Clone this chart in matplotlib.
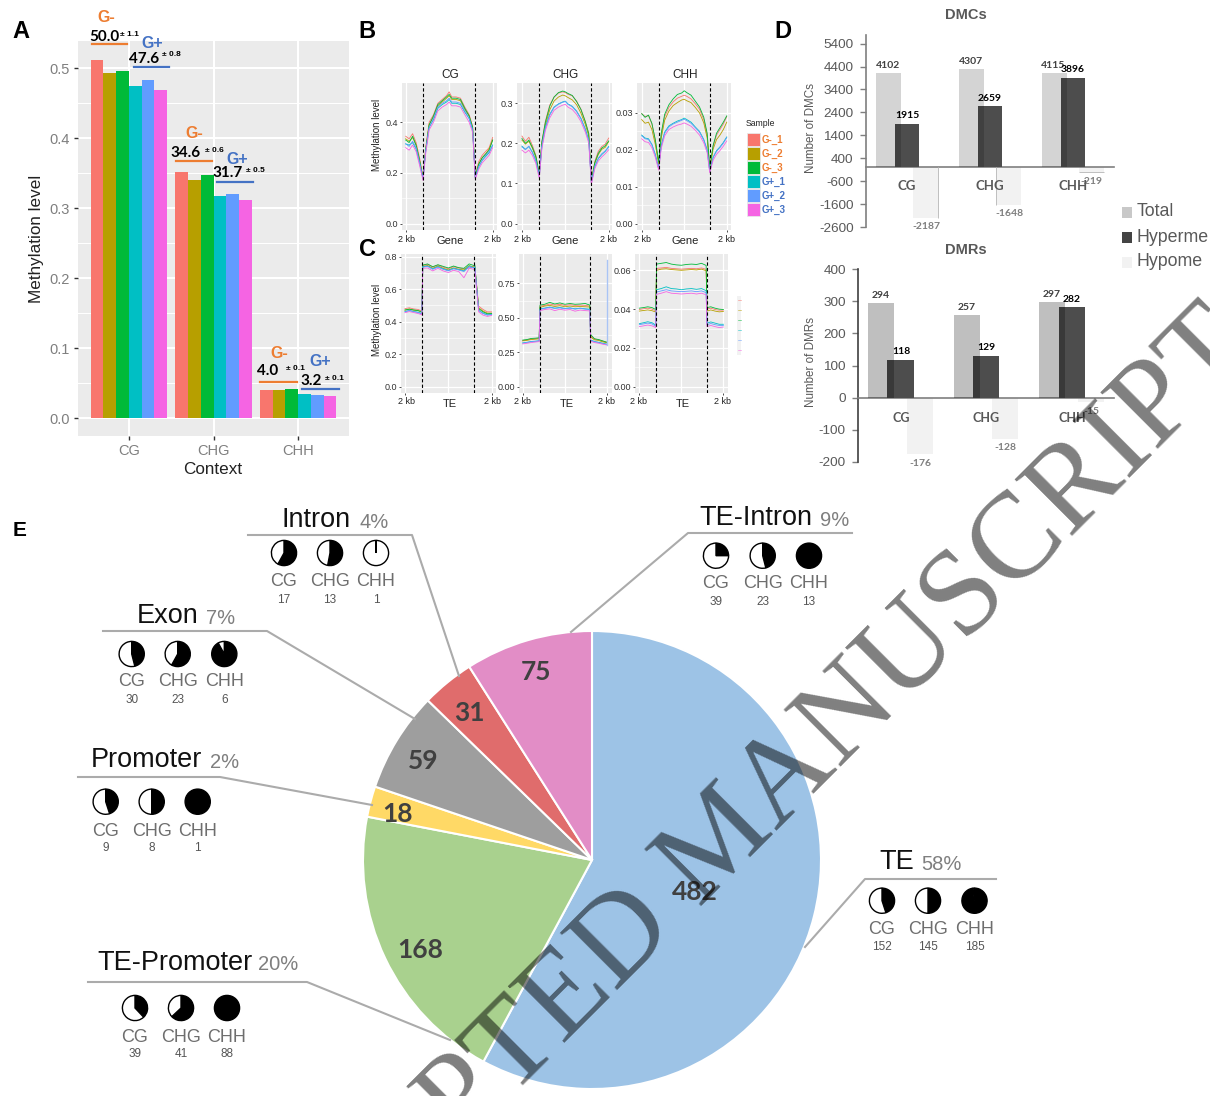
import matplotlib
matplotlib.use("Agg")
import matplotlib.pyplot as plt
from matplotlib.patches import Rectangle

plt.rcParams['font.family'] = ['Liberation Sans', 'DejaVu Sans']
W, H = 1210, 1096

# ---------- data ----------
samples = ['G-_1', 'G-_2', 'G-_3', 'G+_1', 'G+_2', 'G+_3']
colors6 = ['#F8766D', '#B79F00', '#00BA38', '#00BFC4', '#619CFF', '#F564E3']
contexts = ['CG', 'CHG', 'CHH']
a_cg = [0.512, 0.493, 0.496, 0.475, 0.483, 0.469]
a_chg = [0.351, 0.340, 0.347, 0.318, 0.320, 0.312]
a_chh = [0.040, 0.040, 0.042, 0.034, 0.033, 0.032]

gx = [0, 4, 8, 12, 16, 20, 23, 27, 32, 37, 42, 47, 50, 53, 58, 63, 68, 73, 77, 80, 84, 88, 92, 96, 100]
tx = [0, 5, 10, 15, 19.5, 20.5, 26, 32, 38, 44, 50, 56, 62, 68, 74, 79.5, 80.5, 85, 90, 95, 100]

gene_cg = [
 [.345,.335,.355,.32,.26,.185,.30,.40,.43,.475,.49,.505,.52,.50,.50,.495,.46,.43,.385,.19,.245,.27,.285,.30,.34],
 [.335,.325,.34,.31,.25,.18,.29,.39,.42,.465,.48,.495,.505,.49,.49,.485,.45,.425,.375,.185,.235,.26,.275,.295,.33],
 [.33,.32,.345,.31,.25,.18,.29,.39,.425,.47,.485,.50,.51,.495,.495,.49,.455,.425,.38,.185,.235,.26,.275,.29,.33],
 [.315,.31,.32,.295,.24,.175,.285,.38,.41,.455,.47,.48,.49,.475,.475,.47,.44,.415,.37,.18,.225,.25,.265,.28,.31],
 [.315,.305,.325,.30,.24,.178,.285,.38,.415,.46,.475,.485,.495,.48,.48,.475,.445,.415,.37,.18,.225,.25,.27,.285,.31],
 [.30,.29,.31,.285,.23,.17,.275,.37,.40,.445,.46,.47,.48,.465,.465,.46,.43,.40,.36,.175,.215,.24,.255,.27,.30]]
gene_chg = [
 [.218,.205,.215,.195,.170,.125,.205,.255,.295,.315,.325,.328,.326,.322,.318,.305,.285,.255,.225,.108,.155,.180,.192,.198,.213],
 [.208,.198,.205,.188,.165,.122,.200,.245,.283,.305,.315,.320,.318,.314,.308,.296,.275,.247,.218,.105,.150,.172,.185,.190,.204],
 [.212,.200,.208,.190,.168,.124,.204,.252,.292,.315,.326,.330,.328,.324,.319,.304,.284,.254,.224,.107,.152,.175,.188,.194,.206],
 [.193,.185,.192,.178,.158,.118,.193,.240,.272,.290,.298,.303,.305,.298,.292,.280,.262,.236,.208,.102,.142,.162,.172,.180,.192],
 [.191,.184,.193,.177,.156,.117,.192,.238,.270,.289,.297,.302,.304,.297,.291,.279,.261,.234,.207,.101,.143,.163,.174,.181,.190],
 [.183,.176,.183,.170,.150,.113,.187,.232,.263,.282,.290,.295,.297,.290,.284,.272,.254,.228,.201,.098,.137,.156,.166,.174,.184]]
gene_chh = [
 [.0298,.0290,.0293,.0270,.0225,.0165,.0240,.0290,.0315,.0330,.0340,.0345,.0348,.0345,.0338,.0325,.0310,.0282,.0240,.0150,.0210,.0240,.0255,.0270,.0290],
 [.0282,.0272,.0275,.0255,.0215,.0160,.0232,.0280,.0305,.0320,.0328,.0335,.0337,.0333,.0328,.0315,.0300,.0273,.0232,.0146,.0202,.0228,.0240,.0255,.0275],
 [.0298,.0288,.0294,.0272,.0228,.0168,.0245,.0296,.0322,.0338,.0350,.0354,.0360,.0355,.0348,.0332,.0316,.0288,.0245,.0152,.0212,.0245,.0260,.0275,.0292],
 [.0240,.0232,.0230,.0215,.0188,.0150,.0212,.0248,.0265,.0272,.0278,.0282,.0286,.0282,.0275,.0262,.0250,.0228,.0200,.0142,.0180,.0198,.0208,.0220,.0235],
 [.0238,.0230,.0228,.0213,.0186,.0149,.0210,.0245,.0262,.0270,.0275,.0280,.0283,.0279,.0272,.0260,.0248,.0226,.0198,.0141,.0179,.0196,.0206,.0218,.0233],
 [.0230,.0222,.0220,.0206,.0180,.0145,.0204,.0238,.0255,.0262,.0267,.0270,.0273,.0270,.0264,.0253,.0240,.0219,.0192,.0138,.0172,.0188,.0198,.0210,.0224]]
te_cg = [
 [.480,.485,.478,.475,.465,.745,.752,.735,.748,.735,.725,.738,.730,.725,.730,.740,.745,.495,.475,.460,.460],
 [.470,.478,.470,.468,.458,.740,.745,.728,.742,.728,.718,.730,.722,.718,.745,.735,.740,.485,.465,.452,.452],
 [.472,.476,.472,.468,.460,.748,.755,.738,.750,.740,.730,.742,.732,.728,.755,.745,.750,.480,.460,.448,.450],
 [.462,.468,.462,.458,.450,.738,.742,.725,.738,.725,.715,.728,.720,.712,.742,.732,.738,.470,.452,.442,.445],
 [.460,.470,.462,.456,.448,.735,.740,.722,.735,.722,.712,.725,.718,.708,.738,.730,.735,.468,.450,.440,.443],
 [.455,.462,.456,.450,.442,.728,.730,.712,.728,.712,.702,.716,.708,.670,.728,.722,.726,.460,.440,.432,.438]]
te_chg = [
 [.335,.340,.345,.348,.350,.585,.590,.600,.592,.598,.590,.595,.590,.592,.590,.585,.370,.345,.340,.330,.322],
 [.332,.336,.342,.345,.347,.575,.585,.590,.582,.588,.580,.585,.580,.582,.580,.578,.360,.340,.335,.325,.318],
 [.338,.342,.350,.352,.355,.592,.598,.612,.600,.608,.598,.604,.598,.600,.604,.592,.378,.348,.342,.332,.322],
 [.318,.322,.328,.330,.333,.565,.570,.578,.570,.575,.568,.572,.565,.570,.565,.562,.338,.328,.322,.315,.308],
 [.316,.320,.326,.329,.332,.562,.568,.575,.568,.572,.565,.570,.563,.568,.563,.560,.336,.326,.320,.312,.306],
 [.310,.315,.320,.324,.327,.552,.560,.565,.552,.562,.555,.560,.548,.556,.552,.550,.330,.320,.315,.308,.302]]
te_chh = [
 [.0398,.0402,.0405,.0400,.0392,.0610,.0612,.0615,.0610,.0608,.0606,.0608,.0610,.0608,.0612,.0605,.0400,.0405,.0398,.0395,.0395],
 [.0390,.0393,.0396,.0392,.0385,.0600,.0606,.0608,.0604,.0602,.0600,.0602,.0604,.0602,.0606,.0598,.0390,.0396,.0390,.0386,.0388],
 [.0405,.0408,.0412,.0408,.0398,.0632,.0636,.0640,.0632,.0628,.0626,.0630,.0632,.0630,.0636,.0625,.0408,.0412,.0405,.0400,.0398],
 [.0325,.0330,.0335,.0330,.0318,.0500,.0506,.0515,.0506,.0504,.0500,.0504,.0506,.0502,.0506,.0495,.0328,.0334,.0328,.0322,.0322],
 [.0320,.0324,.0328,.0324,.0312,.0488,.0494,.0500,.0494,.0492,.0490,.0492,.0494,.0490,.0494,.0485,.0320,.0326,.0320,.0316,.0316],
 [.0310,.0314,.0318,.0314,.0305,.0476,.0482,.0490,.0482,.0480,.0478,.0480,.0482,.0478,.0482,.0474,.0310,.0316,.0310,.0305,.0308]]
spike_x = [100, 100]
spike_y = [.305, .92]

d_total_c = [4102, 4307, 4115]
d_hyper_c = [1915, 2659, 3896]
d_hypo_c = [-2187, -1648, -219]
d_total_r = [294, 257, 297]
d_hyper_r = [118, 129, 282]
d_hypo_r = [-176, -128, -15]
dmc_ticks = [5400, 4400, 3400, 2400, 1400, 400, -600, -1600, -2600]
dmr_ticks = [400, 300, 200, 100, 0, -100, -200]

pie_names = ['TE', 'TE-Promoter', 'Promoter', 'Exon', 'Intron', 'TE-Intron']
pie_vals = [482, 168, 18, 59, 31, 75]
pie_cols = ['#9DC3E6', '#A9D18E', '#FFD966', '#9E9E9E', '#E06C6C', '#E28DC6']
pie_pct = ['58%', '20%', '2%', '7%', '4%', '9%']
mini_counts = {'TE': [152, 145, 185], 'TE-Promoter': [39, 41, 88], 'Promoter': [9, 8, 1],
               'Exon': [30, 23, 6], 'Intron': [17, 13, 1], 'TE-Intron': [39, 23, 13]}
mini_black = {'TE': [.45, .50, .98], 'TE-Promoter': [.38, .63, 1.0], 'Promoter': [.45, .50, 1.0],
              'Exon': [.46, .58, .92], 'Intron': [.58, .53, .004], 'TE-Intron': [.25, .46, 1.0]}

# ---------- helpers ----------
fig = plt.figure(figsize=(W / 100, H / 100), dpi=100, facecolor='white')

def box(x0, y0, x1, y1, **kw):
    return fig.add_axes([x0 / W, 1 - y1 / H, (x1 - x0) / W, (y1 - y0) / H], **kw)

ov = box(0, 0, W, H, zorder=10)
ov.set_xlim(0, W); ov.set_ylim(H, 0); ov.axis('off'); ov.patch.set_alpha(0)

def T(x, y, s, size=8, color='black', ha='center', va='center', weight='normal', family=None, **kw):
    if family:
        kw['family'] = family
    return ov.text(x, y, s, fontsize=size, color=color, ha=ha, va=va, fontweight=weight, **kw)

ORANGE, BLUE = '#ED7D31', '#4472C4'
BF = 'Lato'

def gg(ax, major, minor, xs, grid_lw=1.1):
    ax.set_facecolor('#EBEBEB')
    for s in ax.spines.values():
        s.set_visible(False)
    for v in major:
        ax.axhline(v, color='white', lw=grid_lw, zorder=1)
    for v in minor:
        ax.axhline(v, color='white', lw=grid_lw / 2, zorder=1)
    for v in xs:
        ax.axvline(v, color='white', lw=grid_lw, zorder=1)

# ---------- panel A ----------
axA = box(78, 41, 349, 436)
axA.set_xlim(-0.6, 2.6); axA.set_ylim(-0.0253, 0.5386)
gg(axA, [0, .1, .2, .3, .4, .5], [.05, .15, .25, .35, .45], [0, 1, 2], 1.5)
bw = 0.9 / 6
for i, (vals) in enumerate(zip(a_cg, a_chg, a_chh)):
    axA.bar([k - 0.45 + bw * (i + .5) for k in range(3)], vals, width=bw, color=colors6[i], zorder=2)
axA.set_xticks([0, 1, 2]); axA.set_xticklabels(contexts, fontsize=10.5, color='#7F7F7F')
axA.set_yticks([0, .1, .2, .3, .4, .5]); axA.set_yticklabels(['0.0', '0.1', '0.2', '0.3', '0.4', '0.5'], fontsize=10.5, color='#7F7F7F')
axA.tick_params(length=3, width=1, color='#333333', pad=3)
T(37, 239, 'Methylation level', size=12.3, rotation=90, color='#222222')
T(213, 469, 'Context', size=12.3, color='#222222')

ann = [  # label x,y ; mean x,y,text ; sd x,y,text ; line x0,x1,y ; colour
    (106, 18, 'G-', 104, 37, '50.0', 129, 34, '± 1.1', 92, 127, 44, ORANGE),
    (152, 43, 'G+', 144, 59, '47.6', 171, 55, '± 0.8', 134, 169, 67, BLUE),
    (194, 133, 'G-', 186, 153, '34.6', 214, 150, '± 0.6', 176, 212, 161, ORANGE),
    (237, 159, 'G+', 228, 173, '31.7', 255, 171, '± 0.5', 217, 253, 182, BLUE),
    (279, 353, 'G-', 268, 371, '4.0', 295, 368, '± 0.1', 260, 297, 382, ORANGE),
    (320, 362, 'G+', 311, 381, '3.2', 334, 378, '± 0.1', 302, 339, 389, BLUE)]
for lx, ly, ls, mx, my, ms, sx, sy, ss, x0, x1, yy, c in ann:
    T(lx, ly, ls, size=11.5, color=c, weight='bold')
    T(mx, my, ms, size=11, weight='bold', family=BF)
    T(sx, sy, ss, size=6, weight='bold')
    ov.plot([x0, x1], [yy, yy], color=c, lw=1.6)

# ---------- panels B / C ----------
def profile(bx, ylim, yt, ytl, xdata, series, xl, tickx, name, title=None):
    ax = box(*bx)
    ax.set_xlim(*xl); ax.set_ylim(*ylim)
    step = yt[1] - yt[0]
    gg(ax, yt, [v + step / 2 for v in yt[:-1]], [0, 50, 100], 0.9)
    for i, s in enumerate(series):
        ax.plot(xdata, s, color=colors6[i], lw=0.6, zorder=3)
    for v in (20, 80):
        ax.axvline(v, color='black', lw=0.8, ls=(0, (3, 2)), zorder=4)
    ax.set_yticks(yt); ax.set_yticklabels(ytl, fontsize=6.5, color='#333333')
    ax.set_xticks([0, 100]); ax.set_xticklabels(['', ''])
    ax.tick_params(length=1.5, width=0.6, color='#333333', pad=1.5)
    cy = bx[3] + 9
    T(tickx[0], cy, '2 kb', size=6.5, color='#222222')
    T(tickx[1], cy, '2 kb', size=6.5, color='#222222')
    T((bx[0] + bx[2]) / 2 + 1, cy + 2, name, size=8, color='#222222')
    if title:
        T((bx[0] + bx[2]) / 2 + 1, 75, title, size=8.5, color='#222222')
    return ax

profile((402, 83, 497, 230), (-0.025, 0.555), [0, .2, .4], ['0.0', '0.2', '0.4'], gx, gene_cg, (-4.2, 105), (406, 493), 'Gene', 'CG')
profile((517, 83, 612, 230), (-0.0157, 0.35), [0, .1, .2, .3], ['0.0', '0.1', '0.2', '0.3'], gx, gene_chg, (-5.7, 103.8), (522, 609), 'Gene', 'CHG')
profile((637, 83, 731, 230), (-0.0017, 0.0381), [0, .01, .02, .03], ['0.00', '0.01', '0.02', '0.03'], gx, gene_chh, (-5.5, 105), (642, 727), 'Gene', 'CHH')
profile((401, 254, 496, 393), (-0.039, 0.816), [0, .2, .4, .6, .8], ['0.0', '0.2', '0.4', '0.6', '0.8'], tx, te_cg, (-4.6, 105), (406, 492), 'TE')
axC2 = profile((519, 254, 612, 393), (-0.046, 0.963), [0, .25, .5, .75], ['0.00', '0.25', '0.50', '0.75'], tx, te_chg, (-4.4, 105.8), (523, 607), 'TE')
axC2.plot(spike_x, spike_y, color='#A9C4F5', lw=1.0, zorder=3)
profile((635, 254, 728, 393), (-0.0032, 0.0684), [0, .02, .04, .06], ['0.00', '0.02', '0.04', '0.06'], tx, te_chh, (-5.2, 105.5), (639, 723), 'TE')
T(377, 135, 'Methylation level', size=7, rotation=90, color='#222222')
T(377, 320, 'Methylation level', size=7, rotation=90, color='#222222')

T(746, 124, 'Sample', size=6.2, ha='left', color='#222222')
for i, s in enumerate(samples):
    y0 = 133 + 14 * i
    ov.add_patch(Rectangle((747, y0), 13, 13, facecolor=colors6[i], edgecolor='#E8E8E8', lw=0.6))
    T(762, y0 + 6.5, s, size=7, ha='left', weight='bold', color=ORANGE if i < 3 else BLUE)

# ghost legend keys beside panel C
ov.add_patch(Rectangle((737, 296), 4, 59, facecolor='#F2F2F2', edgecolor='none'))
for i in range(6):
    ov.plot([738, 741], [300 + 10 * i] * 2, color=colors6[i], lw=0.5, alpha=.7)

# ---------- panel D ----------
def dbars(bx, ylim, xl, total, hyper, hypo, yt, w, off, total_alpha, ylabel, ylab_x, ylab_y):
    ax = box(*bx)
    ax.set_xlim(*xl); ax.set_ylim(*ylim)
    ax.patch.set_alpha(0)
    xs = [0, 1, 2]
    ax.bar(xs, hyper, width=w, color='#4D4D4D', zorder=3)
    ax.bar([x - off for x in xs], total, width=w, color='black', alpha=total_alpha, lw=0, zorder=4)
    ax.bar([x + off for x in xs], hypo, width=w, color='#F2F2F2', zorder=2)
    ax.set_yticks(yt); ax.set_yticklabels([str(t) for t in yt], fontsize=9.7, color='#595959')
    ax.set_xticks([])
    ax.spines['top'].set_visible(False); ax.spines['right'].set_visible(False)
    ax.spines['bottom'].set_position(('data', 0))
    ax.spines['left'].set_color('#7F7F7F'); ax.spines['bottom'].set_color('#7F7F7F')
    ax.spines['left'].set_linewidth(1.2); ax.spines['bottom'].set_linewidth(1.2)
    ax.tick_params(axis='y', length=4, width=1, color='#7F7F7F', pad=5)
    T(ylab_x, ylab_y, ylabel, size=8.4, rotation=90, color='#595959')
    return ax

axD1 = dbars((866, 35, 1114, 227), (-2600, 5776), (-0.494, 2.494), d_total_c, d_hyper_c, d_hypo_c,
             dmc_ticks, 0.30, 0.226, 0.17, 'Number of DMCs', 811, 128)
axD1.vlines(0 + .226 + .15, -2187, 0, color='#BFBFBF', lw=0.7, zorder=5)
axD1.vlines(1 + .226 - .15, -1648, 0, color='#BFBFBF', lw=0.7, zorder=5)
axD1.hlines(-219, 2 + .226 - .15, 2 + .226 + .15, color='#BFBFBF', lw=0.7, zorder=5)
T(966, 15, 'DMCs', size=10.5, weight='bold', color='#595959')
for (x, y), v in zip([(888, 65.5), (971, 61), (1053, 65.5)], d_total_c):
    T(x, y, str(v), size=7.5, weight='bold', family=BF, color='#404040')
for (x, y), v in zip([(907, 115.5), (990, 98.5), (1073, 70)], d_hyper_c):
    T(x, y, str(v), size=7.5, weight='bold', family=BF)
for (x, y), v in zip([(926, 226.5), (1009, 214), (1091, 181)], d_hypo_c):
    T(x, y, str(v), size=7.5, weight='bold', family=BF, color='#7F7F7F')
for (x, y), s in zip([(907, 186), (990, 186), (1073, 186)], contexts):
    T(x, y, s, size=9.5, weight='bold', family=BF, color='#595959')

axD2 = dbars((858.3, 269.3, 1114, 461.7), (-200, 400), (-0.493, 2.494), d_total_r, d_hyper_r, d_hypo_r,
             dmr_ticks, 0.304, 0.225, 0.25, 'Number of DMRs', 811, 362)
axD2.spines['left'].set_color('#404040')
T(966, 250, 'DMRs', size=10.5, weight='bold', color='#595959')
for (x, y), v in zip([(881, 295), (967, 307), (1052, 294.5)], d_total_r):
    T(x, y, str(v), size=7.5, weight='bold', family=BF, color='#404040')
for (x, y), v in zip([(901, 352), (986, 348), (1072, 299)], d_hyper_r):
    T(x, y, str(v), size=7.5, weight='bold', family=BF)
for (x, y), v in zip([(920, 463), (1005.5, 448), (1091, 412)], d_hypo_r):
    T(x, y, str(v), size=7.5, weight='bold', family=BF, color='#7F7F7F')
for (x, y), s in zip([(901, 417.5), (986, 417.5), (1072, 417.5)], contexts):
    T(x, y, s, size=9, weight='bold', family=BF, color='#595959')

for y, c, s in [(212, '#C8C8C8', 'Total'), (237, '#444444', 'Hyperme'), (262, '#F2F2F2', 'Hypome')]:
    ov.add_patch(Rectangle((1122, y - 5.5), 10, 11, facecolor=c, edgecolor='none'))
    T(1137, y, s, size=12.8, ha='left', color='#595959')

# ---------- panel E ----------
axP = box(363, 631, 821, 1089)
axP.pie(pie_vals, colors=pie_cols, startangle=90, counterclock=False, radius=1,
        wedgeprops=dict(edgecolor='white', linewidth=1.5))
axP.set_xlim(-1, 1); axP.set_ylim(-1, 1)
for (x, y), v in zip([(695, 892), (420, 950), (398, 814), (423, 761), (469, 713), (536, 672)], pie_vals):
    T(x, y, str(v), size=19, weight='bold', family=BF, color='#404040')

leaders = {
    'TE': [(996, 879), (865, 879), (805, 947)],
    'TE-Promoter': [(88, 982), (307, 982), (450, 1040)],
    'Promoter': [(78, 777), (220, 777), (372, 805)],
    'Exon': [(103, 631), (267, 631), (415, 719)],
    'Intron': [(248, 535), (412, 535), (459, 676)],
    'TE-Intron': [(852, 533), (688, 533), (571, 632)]}
for k, p in leaders.items():
    ov.plot([q[0] for q in p], [q[1] for q in p], color='#ABABAB', lw=1.5, zorder=1)

layout = {  # title x, title y, pct x ; mini-pie centres x, y ; label y ; count y
    'TE': (879, 862, 921, [882, 928, 974.5], 900.7, 929, 947),
    'TE-Promoter': (97, 963, 258, [135, 181, 227], 1008, 1037, 1054),
    'Promoter': (91, 760, 210, [105.7, 151.7, 197.7], 801.7, 831, 848),
    'Exon': (137, 616, 206, [131.7, 177.7, 224.3], 654, 682, 700),
    'Intron': (282, 520, 359, [284, 330, 376], 553, 582, 600),
    'TE-Intron': (699, 518, 820, [716, 762.7, 809], 555.7, 583, 602)}
for name, pct in zip(pie_names, pie_pct):
    tx0, ty, px, cxs, cy, ly, vy = layout[name]
    T(tx0, ty, name, size=19.5, ha='left', color='#111111')
    T(px, ty + 2, pct, size=14.5, ha='left', color='#7F7F7F')
    for cx, f, c, n in zip(cxs, mini_black[name], contexts, mini_counts[name]):
        a = box(cx - 14, cy - 14, cx + 14, cy + 14, zorder=11)
        a.pie([f, 1 - f], colors=['black', 'white'], startangle=90, counterclock=False, radius=0.9,
              wedgeprops=dict(edgecolor='black', linewidth=1.0))
        a.set_xlim(-1, 1); a.set_ylim(-1, 1)
        T(cx, ly, c, size=13, color='#6E6E6E')
        T(cx, vy, str(n), size=8.5, color='#555555')

for x, y, s, sz in [(21, 31, 'A', 17), (367, 31, 'B', 17), (367, 249, 'C', 17), (783, 31, 'D', 17), (20, 531, 'E', 15)]:
    T(x, y, s, size=sz, weight='bold')

# ---------- watermark ----------
fig.text(744 / W, 1 - 864 / H, 'ACCEPTED MANUSCRIPT', fontsize=88, family='Liberation Serif', color='black',
         alpha=0.5, rotation=45, rotation_mode='anchor', ha='center', va='baseline', zorder=20)

fig.savefig('out.png', dpi=100)
